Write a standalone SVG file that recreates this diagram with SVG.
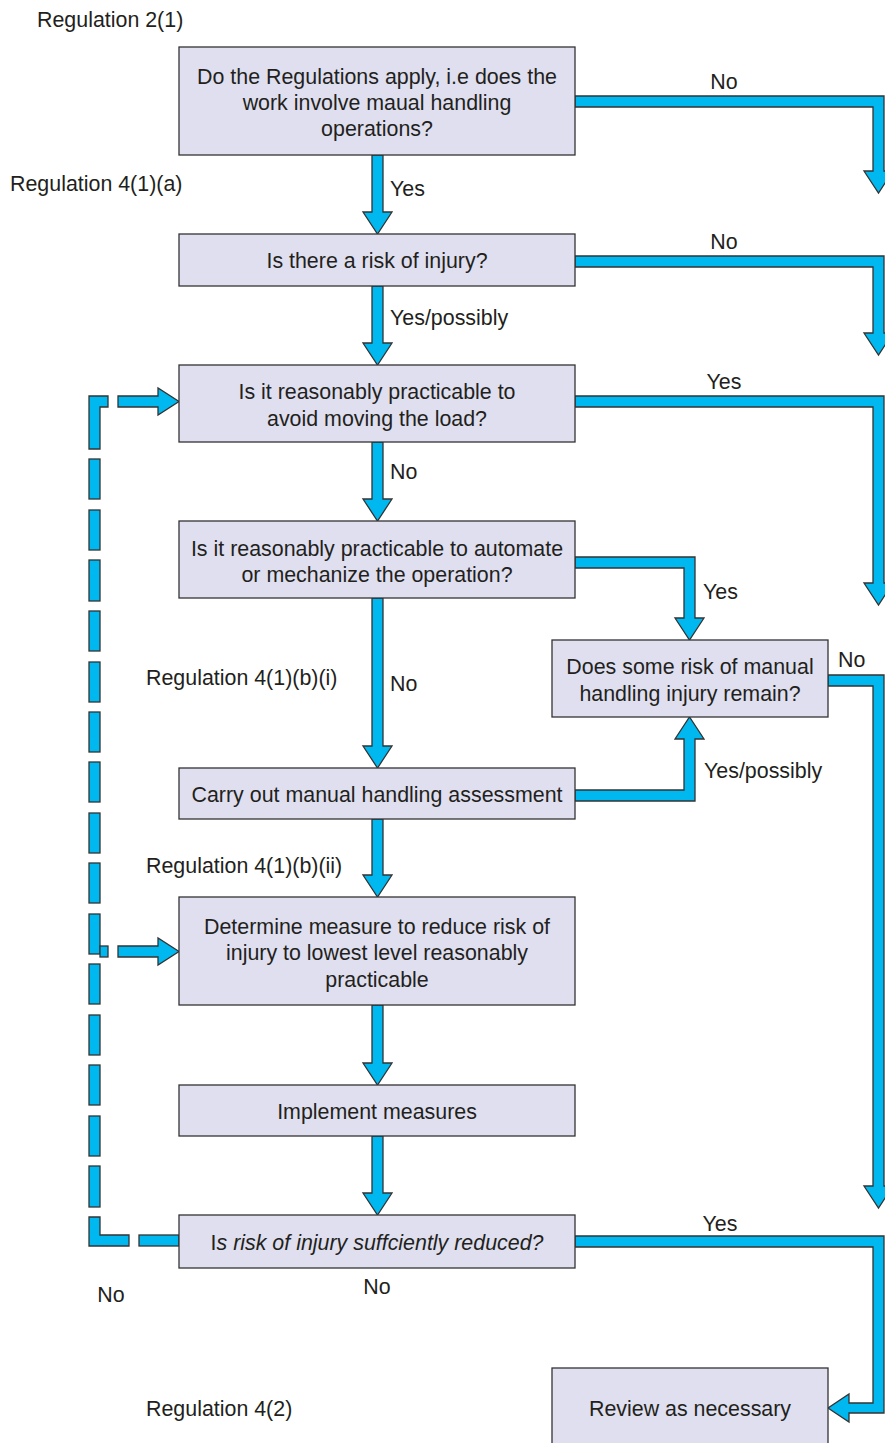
<svg xmlns="http://www.w3.org/2000/svg" width="885" height="1443" viewBox="0 0 885 1443">
<style>
.box{fill:#dfdfef;stroke:#333;stroke-width:1.3}
.arr{fill:#00b8f0;stroke:#333;stroke-width:1.3;stroke-linejoin:miter}
text{font-family:"Liberation Sans",Arial,sans-serif;font-size:21.4px;fill:#231f20}
.c{text-anchor:middle}
</style>
<rect width="885" height="1443" fill="#fff"/>
<g id="connectors">
<polygon class="arr" points="372,155 383,155 383,212 392,212 377.5,234 363,212 372,212"/>
<polygon class="arr" points="372,286 383,286 383,343 392,343 377.5,365 363,343 372,343"/>
<polygon class="arr" points="372,442 383,442 383,499 392,499 377.5,521 363,499 372,499"/>
<polygon class="arr" points="372,598 383,598 383,746 392,746 377.5,768 363,746 372,746"/>
<polygon class="arr" points="372,819 383,819 383,875 392,875 377.5,897 363,875 372,875"/>
<polygon class="arr" points="372,1005 383,1005 383,1063 392,1063 377.5,1085 363,1063 372,1063"/>
<polygon class="arr" points="372,1136 383,1136 383,1193 392,1193 377.5,1215 363,1193 372,1193"/>
<polygon class="arr" points="575,96 884,96 884,171 893,171 878.5,193 864,171 873,171 873,107 575,107"/>
<polygon class="arr" points="575,256 884,256 884,333 893,333 878.5,355 864,333 873,333 873,267 575,267"/>
<polygon class="arr" points="575,396 884,396 884,583 893,583 878.5,605 864,583 873,583 873,407 575,407"/>
<polygon class="arr" points="575,557 695,557 695,618 704,618 689.5,640 675,618 684,618 684,568 575,568"/>
<polygon class="arr" points="575,801 695,801 695,739 704,739 689.5,717 675,739 684,739 684,790 575,790"/>
<polygon class="arr" points="828,675 884,675 884,1186 893,1186 878.5,1208 864,1186 873,1186 873,686 828,686"/>
<polygon class="arr" points="575,1236 884,1236 884,1413 849,1413 849,1422 828,1408 849,1394 849,1403 873,1403 873,1247 575,1247"/>
<polygon class="arr" points="89,396 108,396 108,407 100,407 100,449 89,449"/>
<polygon class="arr" points="118,396 158,396 158,388 179,401.5 158,415 158,407 118,407"/>
<rect class="arr" x="89" y="459" width="11" height="40"/>
<rect class="arr" x="89" y="510" width="11" height="40"/>
<rect class="arr" x="89" y="560" width="11" height="41"/>
<rect class="arr" x="89" y="611" width="11" height="40"/>
<rect class="arr" x="89" y="662" width="11" height="40"/>
<rect class="arr" x="89" y="712" width="11" height="40"/>
<rect class="arr" x="89" y="762" width="11" height="40"/>
<rect class="arr" x="89" y="813" width="11" height="40"/>
<rect class="arr" x="89" y="863" width="11" height="40"/>
<rect class="arr" x="89" y="914" width="11" height="40"/>
<rect class="arr" x="100" y="946" width="8" height="11"/>
<polygon class="arr" points="118,946 158,946 158,938 179,951.5 158,965 158,957 118,957"/>
<rect class="arr" x="89" y="964" width="11" height="40"/>
<rect class="arr" x="89" y="1015" width="11" height="40"/>
<rect class="arr" x="89" y="1065" width="11" height="40"/>
<rect class="arr" x="89" y="1116" width="11" height="40"/>
<rect class="arr" x="89" y="1166" width="11" height="41"/>
<polygon class="arr" points="89,1217 100,1217 100,1235 129,1235 129,1246 89,1246"/>
<rect class="arr" x="139" y="1235" width="40" height="11"/>
</g>
<g id="labels">
<text x="37" y="27">Regulation 2(1)</text>
<text x="10" y="191">Regulation 4(1)(a)</text>
<text x="146" y="685">Regulation 4(1)(b)(i)</text>
<text x="146" y="873">Regulation 4(1)(b)(ii)</text>
<text x="146" y="1416">Regulation 4(2)</text>
<text class="c" x="724" y="89">No</text>
<text x="390" y="196">Yes</text>
<text class="c" x="724" y="249">No</text>
<text x="390" y="325">Yes/possibly</text>
<text class="c" x="724" y="389">Yes</text>
<text x="390" y="479">No</text>
<text x="703" y="599">Yes</text>
<text x="838" y="667">No</text>
<text x="390" y="691">No</text>
<text x="704" y="778">Yes/possibly</text>
<text class="c" x="720" y="1231">Yes</text>
<text class="c" x="111" y="1302">No</text>
<text class="c" x="377" y="1294">No</text>
</g>
<g id="n1"><rect class="box" x="179" y="47" width="396" height="108"/>
<text class="c" x="377" y="84">Do the Regulations apply, i.e does the</text>
<text class="c" x="377" y="110">work involve maual handling</text>
<text class="c" x="377" y="136">operations?</text></g>
<g id="n2"><rect class="box" x="179" y="234" width="396" height="52"/>
<text class="c" x="377" y="268">Is there a risk of injury?</text></g>
<g id="n3"><rect class="box" x="179" y="365" width="396" height="77"/>
<text class="c" x="377" y="399">Is it reasonably practicable to</text>
<text class="c" x="377" y="426">avoid moving the load?</text></g>
<g id="n4"><rect class="box" x="179" y="521" width="396" height="77"/>
<text class="c" x="377" y="556">Is it reasonably practicable to automate</text>
<text class="c" x="377" y="582">or mechanize the operation?</text></g>
<g id="n5"><rect class="box" x="552" y="640" width="276" height="77"/>
<text class="c" x="690" y="674">Does some risk of manual</text>
<text class="c" x="690" y="701">handling injury remain?</text></g>
<g id="n6"><rect class="box" x="179" y="768" width="396" height="51"/>
<text class="c" x="377" y="802">Carry out manual handling assessment</text></g>
<g id="n7"><rect class="box" x="179" y="897" width="396" height="108"/>
<text class="c" x="377" y="934">Determine measure to reduce risk of</text>
<text class="c" x="377" y="960">injury to lowest level reasonably</text>
<text class="c" x="377" y="987">practicable</text></g>
<g id="n8"><rect class="box" x="179" y="1085" width="396" height="51"/>
<text class="c" x="377" y="1119">Implement measures</text></g>
<g id="n9"><rect class="box" x="179" y="1215" width="396" height="53"/>
<text class="c" x="377" y="1250">I<tspan font-style="italic">s risk of injury suffciently reduced?</tspan></text></g>
<g id="n10"><rect class="box" x="552" y="1368" width="276" height="90"/>
<text class="c" x="690" y="1416">Review as necessary</text></g>
</svg>
